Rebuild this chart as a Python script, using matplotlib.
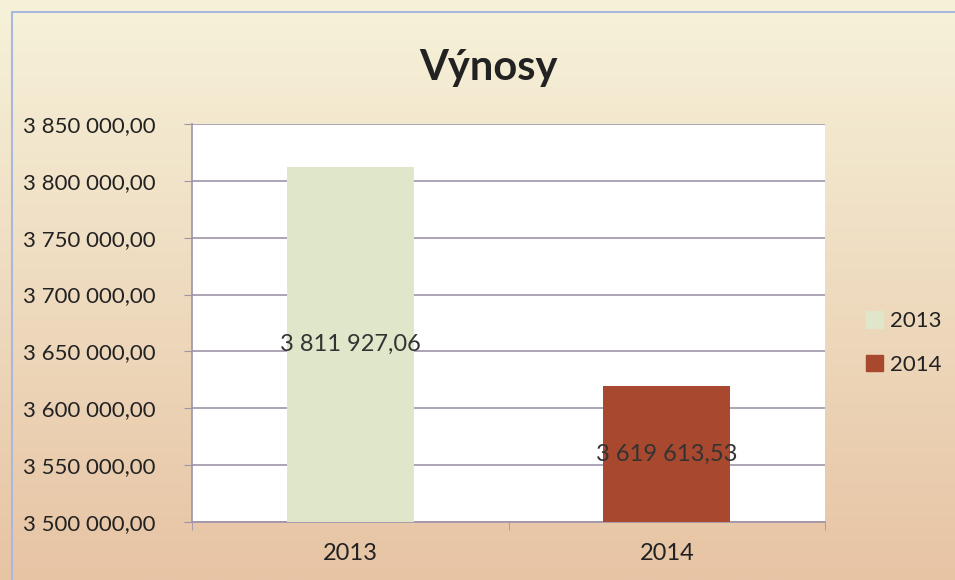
import numpy as np
import matplotlib.pyplot as plt
from matplotlib.patches import Rectangle
from matplotlib.ticker import FuncFormatter

plt.rcParams['font.family'] = ['Lato', 'DejaVu Sans']

years = ['2013', '2014']
vynosy = [3811927.06, 3619613.53]
bar_colors = ['#dfe6c9', '#a8482e']
y_ticks = [3500000, 3550000, 3600000, 3650000, 3700000, 3750000, 3800000, 3850000]


def cz_format(v, decimals=2):
    s = f'{v:,.{decimals}f}'
    return s.replace(',', ' ').replace('.', ',')


fig = plt.figure(figsize=(9.55, 5.8), dpi=100)

# gradient background
bg = fig.add_axes([0, 0, 1, 1], zorder=-10)
grad = np.linspace(0, 1, 256)[:, None, None]
top = np.array([246, 242, 218]) / 255
bottom = np.array([231, 196, 164]) / 255
img = top * (1 - grad) + bottom * grad
bg.imshow(np.repeat(img, 2, axis=1), aspect='auto', extent=[0, 1, 0, 1])
bg.add_patch(Rectangle((12 / 955, -0.05), 1.0, 1 - 12 / 580 + 0.05,
                       fill=False, edgecolor='#a9b8dc', linewidth=1.5))
bg.set_xlim(0, 1)
bg.set_ylim(0, 1)
bg.axis('off')

ax = fig.add_axes([192 / 955, 1 - 522 / 580, (825 - 192) / 955, (522 - 124) / 580])
ax.set_facecolor('white')
x = np.arange(len(years))
bars = ax.bar(x, [v - y_ticks[0] for v in vynosy], bottom=y_ticks[0],
              width=0.4, color=bar_colors, zorder=3)
ax.set_xlim(-0.5, len(years) - 0.5)
ax.set_ylim(y_ticks[0], y_ticks[-1])
ax.set_yticks(y_ticks)
ax.yaxis.set_major_formatter(FuncFormatter(lambda v, p: cz_format(v)))
ax.yaxis.grid(True, color='#9e94a8', linewidth=1.2, zorder=0)
ax.set_xticks(x)
ax.set_xticklabels(years)
ax.set_xticks([-0.5, 0.5, 1.5], minor=True)
ax.tick_params(axis='x', which='major', length=0, pad=15, labelsize=17, labelcolor='#222222')
ax.tick_params(axis='x', which='minor', length=6, color='#9e94a8', direction='out')
ax.tick_params(axis='y', length=6, color='#9e94a8', labelsize=16, labelcolor='#222222', pad=20)
for side in ['top', 'right']:
    ax.spines[side].set_visible(False)
ax.spines['left'].set_color('#9e94a8')
ax.spines['bottom'].set_color('#9e94a8')
ax.spines['left'].set_linewidth(1.2)
ax.spines['bottom'].set_linewidth(1.2)

for xi, v in zip(x, vynosy):
    ax.text(xi, (v + y_ticks[0]) / 2, cz_format(v), ha='center', va='center',
            fontsize=17, color='#333333', zorder=4)

fig.text(488 / 955, 1 - 68 / 580, 'Výnosy', ha='center', va='center',
         fontsize=30, fontweight='bold', color='#222222')

handles = [Rectangle((0, 0), 1, 1, color=c) for c in bar_colors]
leg = fig.legend(handles, years, loc='center left', bbox_to_anchor=(866 / 955, 1 - 343 / 580),
                 frameon=False, fontsize=16, handlelength=0.75, handleheight=0.75,
                 handletextpad=0.35, labelspacing=1.05, borderpad=0, borderaxespad=0)
for t in leg.get_texts():
    t.set_color('#222222')

fig.savefig('out.png', dpi=100)
